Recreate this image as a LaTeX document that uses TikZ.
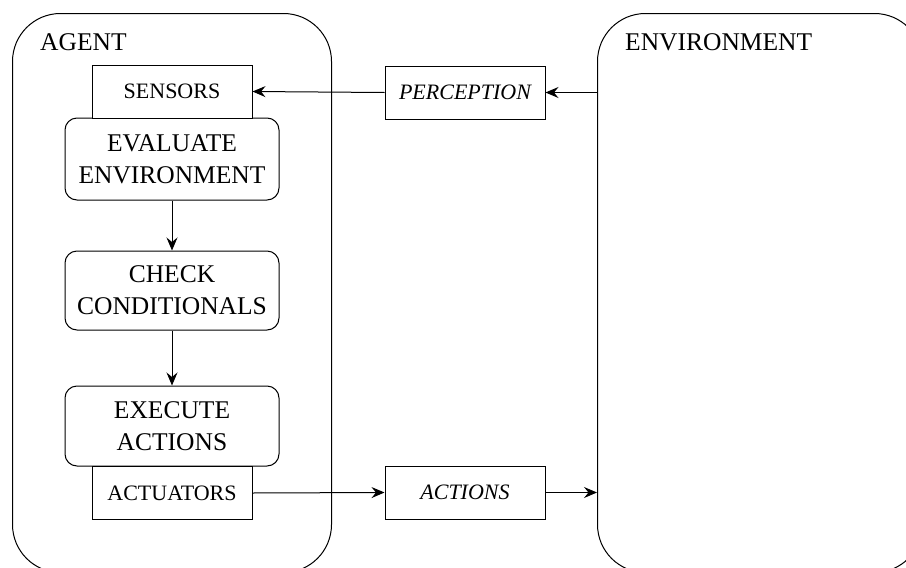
\documentclass[tikz,border=0pt]{standalone}
\usepackage{fontspec}
\setmainfont{Liberation Serif}
\usetikzlibrary{arrows.meta,positioning}

\tikzset{
  bigbox/.style={draw, rounded corners=48pt, line width=1pt, inner sep=0pt},
  stepbox/.style={draw, rounded corners=12pt, line width=1pt, minimum width=214pt, minimum height=80pt, inner sep=0pt, align=center, font=\fontsize{25.5}{32}\selectfont},
  portbox/.style={draw, fill=white, line width=1pt, minimum width=160pt, minimum height=53pt, inner sep=0pt, font=\fontsize{22}{26}\selectfont},
  flow/.style={line width=1pt, -{Stealth[length=13pt,width=11pt,inset=4.5pt]}}
}

\begin{document}
\begin{tikzpicture}[x=1pt,y=-1pt]
\useasboundingbox (0,0) rectangle (906,568);
\clip (0,0) rectangle (906,568);
%outer boxes:
\node[bigbox, minimum width=319pt, minimum height=559pt, anchor=north west] (agent) at (12,13) {};
\node[bigbox, minimum width=325pt, minimum height=559pt, anchor=north west] (env) at (597,13) {};
\node[anchor=base west, inner sep=0pt, font=\fontsize{25.5}{30}\selectfont] (agentlbl) at (40,50) {AGENT};
\node[anchor=base west, inner sep=0pt, font=\fontsize{25.5}{30}\selectfont] (envlbl) at (625,50) {ENVIRONMENT};
%agent steps:
\node[stepbox, minimum height=82pt] (eval) at (172,159) {EVALUATE\\ENVIRONMENT};
\node[stepbox, minimum height=79pt] (check) at (172,290.5) {CHECK\\CONDITIONALS};
\node[stepbox] (exec) at (172,426) {EXECUTE\\ACTIONS};
\node[portbox] (sens) at (172,91.5) {SENSORS};
\node[portbox] (act) at (172,493) {ACTUATORS};
%messages:
\node[portbox, font=\fontsize{22}{26}\selectfont\itshape] (perc) at (465,92.5) {PERCEPTION};
\node[portbox, font=\fontsize{22}{26}\selectfont\itshape] (acts) at (465,492.5) {ACTIONS};
%arrows:
\draw[flow] (eval) -- (check);
\draw[flow] (check) -- (exec);
\draw[flow] (env.west |- perc.east) -- (perc.east);
\draw[flow] (perc.west) -- (sens.east);
\draw[flow] (act.east) -- (acts.west);
\draw[flow] (acts.east) -- (env.west |- acts.east);
\end{tikzpicture}
\end{document}
